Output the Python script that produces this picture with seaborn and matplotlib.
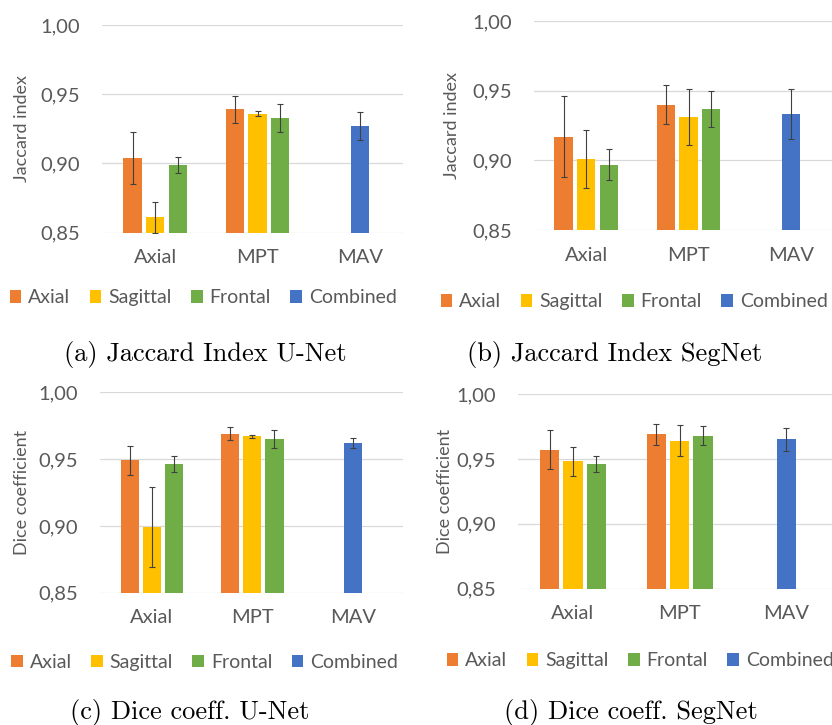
import matplotlib
matplotlib.use("Agg")
import matplotlib.pyplot as plt
import matplotlib.ticker as mticker
import seaborn as sns
import pandas as pd

# ---------------- data ----------------
categories = ["Axial", "MPT", "MAV"]
series = ["Axial", "Sagittal", "Frontal", "Combined"]
bar_category = ["Axial", "Axial", "Axial", "MPT", "MPT", "MPT", "MAV"]
bar_series = ["Axial", "Sagittal", "Frontal", "Axial", "Sagittal", "Frontal", "Combined"]

jaccard_unet = [0.904, 0.861, 0.899, 0.939, 0.936, 0.933, 0.927]
jaccard_unet_err = [0.019, 0.011, 0.006, 0.010, 0.002, 0.010, 0.010]
jaccard_segnet = [0.917, 0.901, 0.897, 0.940, 0.931, 0.937, 0.933]
jaccard_segnet_err = [0.029, 0.021, 0.011, 0.014, 0.020, 0.013, 0.018]
dice_unet = [0.949, 0.899, 0.946, 0.969, 0.967, 0.965, 0.962]
dice_unet_err = [0.011, 0.030, 0.006, 0.005, 0.001, 0.007, 0.004]
dice_segnet = [0.957, 0.948, 0.946, 0.969, 0.964, 0.968, 0.965]
dice_segnet_err = [0.015, 0.011, 0.006, 0.008, 0.012, 0.007, 0.009]

y_ticks = [0.85, 0.90, 0.95, 1.00]
captions = ["(a) Jaccard Index U-Net", "(b) Jaccard Index SegNet",
            "(c) Dice coeff. U-Net", "(d) Dice coeff. SegNet"]
ylabels = ["Jaccard index", "Jaccard index", "Dice coefficient", "Dice coefficient"]

# ---------------- style ----------------
sns.set_style("white")
plt.rcParams["font.family"] = ["Lato", "DejaVu Sans"]
palette = {"Axial": "#ED7D31", "Sagittal": "#FFC000", "Frontal": "#70AD47", "Combined": "#4472C4"}
slot = {"Axial": -1, "Sagittal": 0, "Frontal": 1, "Combined": 0}
TXT = "#595959"
W, H = 832, 725

fig = plt.figure(figsize=(W / 100, H / 100), dpi=100)

# panel layouts in pixels: left, right, top(1.00), bottom(0.85), xlim, ylabel x, legend anchor
panels = [
    dict(vals=jaccard_unet, errs=jaccard_unet_err, box=(102, 403, 25, 232.7), xlim=(-0.52, 2.42),
         ylx=-0.239, leg=(0.336, -0.314), cap=(205, 354)),
    dict(vals=jaccard_segnet, errs=jaccard_segnet_err, box=(534, 832, 21, 230), xlim=(-0.51, 2.40),
         ylx=-0.248, leg=(0.336, -0.344), cap=(615, 354)),
    dict(vals=dice_unet, errs=dice_unet_err, box=(100, 403, 392.3, 592.7), xlim=(-0.517, 2.50),
         ylx=-0.231, leg=(0.345, -0.346), cap=(190, 712)),
    dict(vals=dice_segnet, errs=dice_segnet_err, box=(518, 832, 394, 588.7), xlim=(-0.516, 2.43),
         ylx=-0.207, leg=(0.389, -0.371), cap=(631, 712)),
]

for i, p in enumerate(panels):
    l, r, t, b = p["box"]
    ax = fig.add_axes([l / W, 1 - b / H, (r - l) / W, (b - t) / H])
    df = pd.DataFrame({"category": bar_category, "series": bar_series,
                       "value": p["vals"], "err": p["errs"]})
    df["pos"] = [categories.index(c) + 0.22 * slot[s] for c, s in zip(df.category, df.series)]
    sns.barplot(data=df, x="pos", y="value", hue="series", hue_order=series,
                palette=palette, native_scale=True, dodge=False, width=0.82,
                errorbar=None, saturation=1, linewidth=0, ax=ax)
    ax.errorbar(df.pos, df.value, yerr=df.err, fmt="none", ecolor="#404040",
                elinewidth=0.8, capsize=2, capthick=0.8, zorder=5)
    ax.set_ylim(0.85, 1.0)
    ax.set_xlim(*p["xlim"])
    ax.set_yticks(y_ticks)
    ax.yaxis.set_major_formatter(mticker.FuncFormatter(lambda v, _: f"{v:.2f}".replace(".", ",")))
    ax.set_xticks(range(len(categories)))
    ax.set_xticklabels(categories)
    ax.tick_params(axis="both", length=0, labelsize=14.5, labelcolor=TXT)
    ax.tick_params(axis="y", pad=16)
    ax.tick_params(axis="x", pad=12)
    ax.yaxis.grid(True, color="#D9D9D9", lw=0.9)
    ax.set_axisbelow(True)
    for s in ax.spines.values():
        s.set_visible(False)
    ax.set_xlabel("")
    ax.set_ylabel(ylabels[i], fontsize=13, color=TXT)
    ax.yaxis.set_label_coords(p["ylx"], 0.5)
    sns.move_legend(ax, loc="center", bbox_to_anchor=p["leg"], ncol=4, frameon=False,
                    title=None, fontsize=14, handlelength=0.6, handleheight=0.6,
                    handletextpad=0.35, columnspacing=1.0, labelcolor=TXT)
    fig.text(p["cap"][0] / W, 1 - p["cap"][1] / H, captions[i], ha="center", va="center",
             fontfamily="cmr10", fontsize=19, color="black")

fig.savefig("out.png", dpi=100)
